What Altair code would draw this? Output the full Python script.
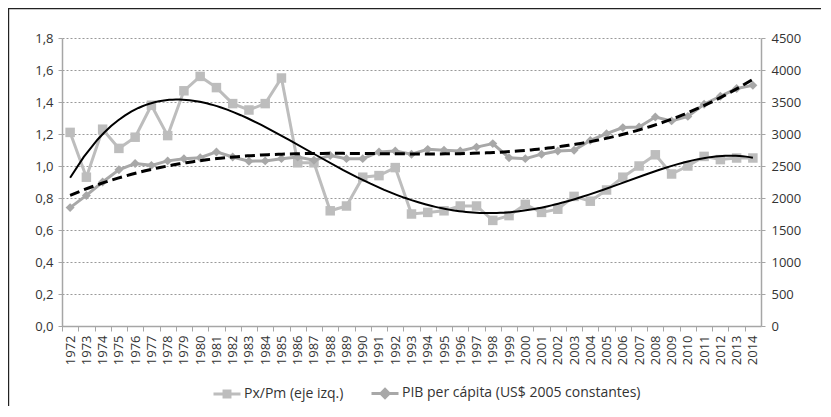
import altair as alt
import pandas as pd

years = list(range(1972, 2015))
pxpm = [1.21, 0.93, 1.23, 1.11, 1.18, 1.38, 1.19, 1.47, 1.56, 1.49, 1.39, 1.35, 1.39, 1.55,
        1.02, 1.02, 0.72, 0.75, 0.93, 0.94, 0.99, 0.70, 0.71, 0.72, 0.75, 0.75, 0.66, 0.69,
        0.76, 0.71, 0.73, 0.81, 0.78, 0.85, 0.93, 1.00, 1.07, 0.95, 1.00, 1.06, 1.04, 1.05, 1.05]
pib = [1850, 2040, 2250, 2440, 2540, 2510, 2580, 2615, 2630, 2720, 2640, 2575, 2580, 2615,
       2640, 2590, 2665, 2615, 2615, 2720, 2735, 2685, 2760, 2745, 2735, 2795, 2850, 2630,
       2615, 2685, 2735, 2745, 2900, 3005, 3100, 3110, 3265, 3205, 3275, 3465, 3590, 3710, 3760]
series_names = ["Px/Pm (eje izq.)", "PIB per cápita (US$ 2005 constantes)"]
left_ticks = [0, 0.2, 0.4, 0.6, 0.8, 1.0, 1.2, 1.4, 1.6, 1.8]
right_ticks = [0, 500, 1000, 1500, 2000, 2500, 3000, 3500, 4000, 4500]

rows = []
for y, a, b in zip(years, pxpm, pib):
    rows.append({"year": y, "series": series_names[0], "value": a})
    rows.append({"year": y, "series": series_names[1], "value": b})
df = pd.DataFrame(rows)

W, H = 699, 288
band = W / len(years)
FONT = "Open Sans"
TXT = "#333333"
AX = "#a6a6a6"
C_PX = "#bdbdbd"
C_PB = "#a8a8a8"

xaxis = alt.Axis(values=years, format="d", labelAngle=-90, tickOffset=-band / 2,
                 labelOffset=band / 2, grid=False, title=None, domainColor=AX,
                 tickColor=AX, tickSize=5, labelPadding=4, labelFont=FONT,
                 labelFontSize=13, labelColor=TXT, labelOverlap=False, domainWidth=1.5)
X = alt.X("year:Q", scale=alt.Scale(domain=[1971.5, 2014.5], nice=False, zero=False), axis=xaxis)

yl_scale = alt.Scale(domain=[0, 1.8], nice=False)
yr_scale = alt.Scale(domain=[0, 4500], nice=False)

yl_axis = alt.Axis(values=left_ticks, labelExpr="replace(format(datum.value, '.1f'), '.', ',')",
                   grid=True, gridDash=[2, 2], gridColor="#999999", gridWidth=1,
                   domainColor=AX, tickColor=AX, tickSize=4, labelPadding=5, title=None,
                   labelFont=FONT, labelFontSize=13, labelColor=TXT, domainWidth=1.5)
yr_axis = alt.Axis(values=right_ticks, format="d", orient="right", grid=False,
                   domainColor=AX, tickColor=AX, tickSize=4, labelPadding=6, title=None,
                   labelFont=FONT, labelFontSize=13, labelColor=TXT, domainWidth=1.5)

base = alt.Chart(df)
px = base.transform_filter(alt.datum.series == series_names[0])
pb = base.transform_filter(alt.datum.series == series_names[1])

sq = "M-1,-1L1,-1L1,1L-1,1Z"
dm = "M0,-1L1,0L0,1L-1,0Z"
leg_sq = "M-1,0L1,0M-0.22,-0.22L0.22,-0.22L0.22,0.22L-0.22,0.22Z"
leg_dm = "M-1,0L1,0M0,-0.3L0.3,0L0,0.3L-0.3,0Z"

legend = alt.Legend(
    title=None, orient="none", legendX=150, legendY=340, direction="horizontal",
    symbolSize=729, labelFont=FONT, labelFontSize=14, labelColor=TXT, labelOffset=2,
    columnPadding=21, symbolStrokeWidth=3, labelLimit=400,
)
dom = series_names
leg_layer = base.transform_filter("false").mark_point(filled=True, opacity=1).encode(
    fill=alt.Fill("series:N", scale=alt.Scale(domain=dom, range=[C_PX, C_PB]), legend=legend),
    stroke=alt.Stroke("series:N", scale=alt.Scale(domain=dom, range=[C_PX, C_PB]), legend=legend),
    shape=alt.Shape("series:N", scale=alt.Scale(domain=dom, range=[leg_sq, leg_dm]), legend=legend),
)

px_line = px.mark_line(color=C_PX, strokeWidth=3).encode(
    x=X, y=alt.Y("value:Q", scale=yl_scale, axis=yl_axis))
px_pts = px.mark_point(filled=True, opacity=1, size=90, shape=sq, color=C_PX).encode(
    x=X, y=alt.Y("value:Q", scale=yl_scale, axis=None))
pb_line = pb.mark_line(color=C_PB, strokeWidth=3).encode(
    x=X, y=alt.Y("value:Q", scale=yr_scale, axis=yr_axis))
pb_pts = pb.mark_point(filled=True, opacity=1, size=80, shape=dm, color=C_PB).encode(
    x=X, y=alt.Y("value:Q", scale=yr_scale, axis=None))
px_trend = px.transform_regression("year", "value", method="poly", order=4,
                                   extent=[1972, 2014]).mark_line(
    color="#000000", strokeWidth=2).encode(x=X, y=alt.Y("value:Q", scale=yl_scale, axis=None))
pb_trend = pb.transform_regression("year", "value", method="poly", order=3,
                                   extent=[1972, 2014]).mark_line(
    color="#000000", strokeWidth=3, strokeDash=[10, 5]).encode(
    x=X, y=alt.Y("value:Q", scale=yr_scale, axis=None))

frame = alt.Chart(pd.DataFrame({"f": [0]})).mark_rect(
    fill="transparent", stroke="#222222", strokeWidth=1.2).encode(
    x=alt.value(-53.4), x2=alt.value(W + 200), y=alt.value(-29.4), y2=alt.value(H + 200))

chart = alt.layer(px_line, px_pts, pb_line, pb_pts, px_trend, pb_trend, leg_layer, frame
                  ).resolve_scale(y="independent").properties(
    width=W, height=H, autosize=alt.AutoSizeParams(type="none"),
    padding={"left": 54, "top": 30, "right": 60, "bottom": 80},
).configure_view(stroke="transparent")

chart.save("out.html", embed_options={"renderer": "svg", "actions": False})
